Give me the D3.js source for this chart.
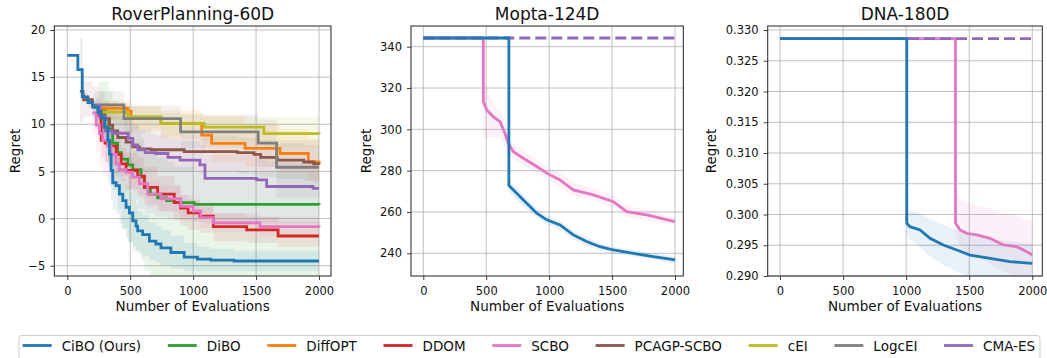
<!DOCTYPE html>
<html><head><meta charset="utf-8">
<script src="https://cdn.jsdelivr.net/npm/d3@7"></script>
<style>body{margin:0;background:#fff;} svg{display:block;font-family:"DejaVu Sans",sans-serif;}</style>
</head><body><svg id="c" width="1047" height="358"></svg>
<script>
// ---------- categories / legend ----------
const methods = ["CiBO (Ours)","DiBO","DiffOPT","DDOM","SCBO","PCAGP-SCBO","cEI","LogcEI","CMA-ES"];
const colors  = ["#1f77b4","#2ca02c","#ff7f0e","#d62728","#e377c2","#8c564b","#bcbd22","#7f7f7f","#9467bd"];
const titles = ["RoverPlanning-60D","Mopta-124D","DNA-180D"];
const xTicks = [0,500,1000,1500,2000];
const yTicksRover = [-5,0,5,10,15,20];
const yTicksMopta = [240,260,280,300,320,340];
const yTicksDNA = [0.290,0.295,0.300,0.305,0.310,0.315,0.320,0.325,0.330];

// ---------- RoverPlanning-60D ----------
const roverCiBOx = [0,84,119,164,203,243,269,296,322,335,348,361,388,414,441,467,493,520,546,559,599,652,704,744,823,929,1034,1140,1325,2000];
const roverCiBOy = [17.3,15.8,12.9,12.3,11.8,11.3,10.7,9.7,8.3,6.8,5.1,3.8,3.5,2.6,1.9,1.2,0.6,-0.25,-0.8,-1.3,-1.7,-2.4,-2.7,-3.1,-3.6,-4.1,-4.3,-4.4,-4.5,-4.5];
const roverCiBOlo = [17.3,15.8,12.5,11.8,11.0,10.2,9.2,7.8,5.5,3.5,2.0,1.0,0.5,-0.5,-1.2,-2.0,-2.5,-3.0,-3.4,-3.7,-4.0,-4.4,-4.7,-5.0,-5.3,-5.5,-5.6,-5.6,-5.6,-5.6];
const roverCiBOhi = [17.3,15.8,13.3,12.8,12.6,12.4,12.2,11.6,11.0,10.0,8.2,6.6,6.0,5.0,4.2,3.4,2.8,2.0,1.4,0.8,0.4,-0.4,-0.8,-1.2,-1.8,-2.6,-3.0,-3.2,-3.4,-3.4];

const roverDiBOx = [250,300,330,360,400,430,480,520,586,612,660,718,790,850,1008,2000];
const roverDiBOy = [11.5,10.5,9.5,8.0,7.0,6.3,5.7,5.2,4.4,3.3,2.6,2.2,1.9,1.7,1.5,1.45];
const roverDiBOhi = [14.5,14.5,13.5,12.5,11.5,10.5,9.5,9.0,8.5,7.5,7.0,6.5,6.0,5.5,5.0,5.0];
const roverDiBOlo = [9.0,7.5,5.5,3.0,1.0,-1.0,-2.5,-3.5,-4.5,-5.5,-6.3,-7,-7,-7,-7,-7];

const roverDiffOPTx = [269,480,507,744,1068,1147,1412,1690,1915,2000];
const roverDiffOPTy = [11.7,11.4,10.6,10.1,8.86,7.98,7.45,6.9,6.0,5.9];
const roverDiffOPThi = [12.5,12.3,11.9,11.5,10.9,10.9,10.0,9.5,8.5,8.5];
const roverDiffOPTlo = [10.5,10.2,9.2,8.5,7.0,6.0,5.5,5.0,4.0,4.0];

const roverDDOMx = [230,269,300,335,388,427,467,559,612,718,850,900,960,1054,1160,1425,1675,2000];
const roverDDOMy = [11.0,8.3,8.0,7.7,6.8,5.8,5.1,4.5,3.3,2.6,1.7,1.1,0.6,0.25,-0.86,-1.2,-1.85,-1.85];
const roverDDOMhi = [12.0,10.5,10.0,9.5,8.5,7.5,7.0,6.5,5.5,4.5,3.5,2.5,2.0,1.5,0.5,0.2,-0.3,-0.3];
const roverDDOMlo = [9.5,6.5,6.0,5.5,4.8,4.0,3.2,2.5,1.5,0.8,-0.2,-0.8,-1.2,-1.5,-2.4,-2.6,-3.0,-3.0];

const roverSCBOx = [200,230,256,282,322,348,388,414,467,520,573,639,744,902,1000,1061,1160,1530,2000];
const roverSCBOy = [11.2,9.9,9.0,8.3,7.7,6.8,5.8,5.2,4.9,4.4,3.7,2.6,2.1,1.3,0.8,0.1,-0.45,-0.85,-0.95];
const roverSCBOhi = [12.0,11.0,10.5,10.0,9.5,8.5,7.5,7.0,6.5,6.0,5.2,4.0,3.5,2.5,2.0,1.2,0.6,0.2,0.1];
const roverSCBOlo = [9.0,7.0,5.5,4.5,4.0,3.5,3.2,3.0,3.0,2.8,2.2,1.2,0.7,0.1,-0.4,-1.0,-1.5,-1.9,-2.0];

const roverPCAGPx = [100,125,130,200,250,296,335,361,401,467,520,573,665,929,1351,1483,1536,1668,1879,1958,2000];
const roverPCAGPy = [13.5,13.0,12.6,12.0,11.3,10.6,9.9,9.3,8.6,8.1,7.6,7.4,7.3,7.1,7.0,6.8,6.5,6.2,6.0,5.8,5.7];
const roverPCAGPhi = [19.2,14.5,14.5,14.0,13.5,12.5,12.0,11.5,11.0,10.5,10.0,9.5,9.0,8.8,8.6,8.5,8.3,8.0,7.8,7.7,7.7];
const roverPCAGPlo = [10.2,10.5,10.8,10.5,9.5,8.5,7.5,6.5,6.0,5.5,5.0,5.0,5.0,5.0,4.8,4.6,4.4,4.2,4.0,3.8,3.8];

const roverCEIx = [250,480,744,1087,1562,2000];
const roverCEIy = [11.3,10.8,10.1,9.7,9.0,8.95];
const roverCEIhi = [12.2,12.0,11.2,10.8,10.8,10.5];
const roverCEIlo = [10.0,9.5,8.8,8.2,7.5,7.5];

const roverLogCEIx = [220,450,900,1517,1663,2000];
const roverLogCEIy = [12.05,10.6,9.2,8.0,5.44,5.44];
const roverLogCEIhi = [13.5,12.0,11.0,10.5,8.3,8.3];
const roverLogCEIlo = [10.5,9.0,7.5,5.5,2.2,2.2];

const roverCMAx = [230,260,300,361,484,520,560,620,700,800,896,1054,1094,1505,1584,1953,2000];
const roverCMAy = [12.0,10.8,9.3,9.05,8.5,7.8,7.3,7.0,6.9,6.5,6.2,5.7,4.27,4.1,3.4,3.2,3.2];
const roverCMAhi = [12.8,12.0,11.0,10.8,10.3,9.8,9.3,9.0,8.8,8.5,8.2,7.8,6.8,6.5,6.0,5.8,5.8];
const roverCMAlo = [10.5,8.5,6.0,4.5,3.0,2.0,1.0,0.5,0.2,0.0,-0.2,-0.3,-0.5,-0.5,-0.5,-0.5,-0.5];

// ---------- Mopta-124D ----------
const moptaCiBOx = [0,680,680,742,795,848,901,981,1086,1192,1298,1404,1510,1669,1828,2000];
const moptaCiBOy = [344.2,344.2,272.8,269.1,265.8,262.6,259.4,256.2,253.7,248.9,245.7,243.2,241.6,240.0,238.4,236.8];
const moptaCiBOhi = [344.2,344.2,275.5,272.0,268.5,265.0,261.8,258.5,255.8,251.0,247.8,245.0,243.2,241.6,240.0,238.5];
const moptaCiBOlo = [344.2,344.2,270.0,266.0,262.8,260.0,257.0,254.0,251.5,246.8,243.6,241.4,239.8,238.4,236.8,235.0];

const moptaSCBOx = [0,477,477,504,556,609,649,675,715,795,901,981,1086,1192,1351,1510,1616,1775,2000];
const moptaSCBOy = [344.2,344.2,313.4,309.4,306.1,303.7,298.1,293.3,289.2,286.0,282.0,278.8,275.5,270.7,268.3,265.0,260.2,258.6,255.3];
const moptaSCBOhi = [344.2,344.2,325,320,312,309,304,298,293,289.5,285.5,282,279,274,271.5,268,263,261,257.5];
const moptaSCBOlo = [344.2,344.2,296,296,296,296,292,288,285.5,283,279,276,272.5,268,265.5,262,257.5,256,253.5];

const moptaCMAx = [0,2000];
const moptaCMAy = [344.2,344.2];

// ---------- DNA-180D ----------
const dnaCiBOx = [0,1005,1005,1030,1110,1189,1295,1401,1506,1665,1823,2000];
const dnaCiBOy = [0.3286,0.3286,0.29857,0.29802,0.29748,0.29613,0.29504,0.29423,0.29341,0.29287,0.29233,0.29206];
const dnaCiBOhi = [0.3286,0.3286,0.3007,0.3006,0.3002,0.2992,0.2983,0.2975,0.2966,0.2960,0.2956,0.2953];
const dnaCiBOlo = [0.3286,0.3286,0.2968,0.2960,0.2948,0.2932,0.2918,0.2907,0.2898,0.2893,0.2890,0.2888];

const dnaSCBOx = [0,1391,1391,1427,1480,1559,1665,1770,1876,1956,2000];
const dnaSCBOy = [0.3286,0.3286,0.2986,0.29748,0.29694,0.29667,0.29613,0.29504,0.29477,0.29396,0.29341];
const dnaSCBOhi = [0.3286,0.3286,0.3043,0.3024,0.3020,0.3015,0.3010,0.3003,0.2998,0.2992,0.2990];
const dnaSCBOlo = [0.3286,0.3286,0.2965,0.2950,0.2940,0.2932,0.2920,0.2908,0.2900,0.2895,0.2893];

const dnaCMAx = [0,2000];
const dnaCMAy = [0.3286,0.3286];

// ---------- panel set-up ----------
const S = (m, x, y, lo, hi, dashed) => ({m, x, y, lo, hi, dashed});
const panels = [
  { title: titles[0], box:{l:54.3,r:331,t:26,b:276}, xr:[67.3,319], yd:[-5,20], yr:[265.7,30],
    yTicks: yTicksRover, fmt: d3.format("d"), step: true, ylab: 15,
    series: [
      S(1, roverDiBOx, roverDiBOy, roverDiBOlo, roverDiBOhi),
      S(2, roverDiffOPTx, roverDiffOPTy, roverDiffOPTlo, roverDiffOPThi),
      S(3, roverDDOMx, roverDDOMy, roverDDOMlo, roverDDOMhi),
      S(4, roverSCBOx, roverSCBOy, roverSCBOlo, roverSCBOhi),
      S(5, roverPCAGPx, roverPCAGPy, roverPCAGPlo, roverPCAGPhi),
      S(6, roverCEIx, roverCEIy, roverCEIlo, roverCEIhi),
      S(7, roverLogCEIx, roverLogCEIy, roverLogCEIlo, roverLogCEIhi),
      S(8, roverCMAx, roverCMAy, roverCMAlo, roverCMAhi),
      S(0, roverCiBOx, roverCiBOy, roverCiBOlo, roverCiBOhi)
    ]},
  { title: titles[1], box:{l:411,r:683.3,t:26,b:276}, xr:[423.3,675], yd:[240,340], yr:[253.3,46.7],
    yTicks: yTicksMopta, fmt: d3.format("d"), step: false, ylab: 366.7,
    series: [
      S(4, moptaSCBOx, moptaSCBOy, moptaSCBOlo, moptaSCBOhi),
      S(8, moptaCMAx, moptaCMAy, null, null, true),
      S(0, moptaCiBOx, moptaCiBOy, moptaCiBOlo, moptaCiBOhi)
    ]},
  { title: titles[2], box:{l:767.7,r:1042.3,t:26,b:276}, xr:[780,1032.3], yd:[0.290,0.330], yr:[276,30],
    yTicks: yTicksDNA, fmt: d3.format(".3f"), step: false, ylab: 711.5,
    series: [
      S(4, dnaSCBOx, dnaSCBOy, dnaSCBOlo, dnaSCBOhi),
      S(8, dnaCMAx, dnaCMAy, null, null, true),
      S(0, dnaCiBOx, dnaCiBOy, dnaCiBOlo, dnaCiBOhi)
    ]}
];

const svg = d3.select("#c");
const defs = svg.append("defs");

panels.forEach((p, i) => {
  const x = d3.scaleLinear().domain([0, 2000]).range(p.xr);
  const y = d3.scaleLinear().domain(p.yd).range(p.yr);
  const b = p.box;
  const g = svg.append("g");
  defs.append("clipPath").attr("id", "clip" + i).append("rect")
    .attr("x", b.l).attr("y", b.t).attr("width", b.r - b.l).attr("height", b.b - b.t);

  // grid
  const grid = g.append("g").attr("stroke", "#b0b0b0").attr("stroke-width", 0.8);
  xTicks.forEach(t => grid.append("line").attr("x1", x(t)).attr("x2", x(t)).attr("y1", b.t).attr("y2", b.b));
  p.yTicks.forEach(t => grid.append("line").attr("y1", y(t)).attr("y2", y(t)).attr("x1", b.l).attr("x2", b.r));

  const plot = g.append("g").attr("clip-path", `url(#clip${i})`);
  const curve = p.step ? d3.curveStepAfter : d3.curveLinear;

  // bands
  p.series.forEach(s => {
    if (!s.lo) return;
    const idx = d3.range(s.x.length);
    const area = d3.area().curve(curve)
      .x(j => x(s.x[j])).y0(j => y(s.lo[j])).y1(j => y(s.hi[j]));
    plot.append("path").attr("d", area(idx))
      .attr("fill", colors[s.m]).attr("fill-opacity", 0.1).attr("stroke", "none");
  });
  // lines
  p.series.forEach(s => {
    const idx = d3.range(s.x.length);
    const line = d3.line().curve(curve).x(j => x(s.x[j])).y(j => y(s.y[j]));
    plot.append("path").attr("d", line(idx))
      .attr("fill", "none").attr("stroke", colors[s.m]).attr("stroke-width", 2.8)
      .attr("stroke-dasharray", s.dashed ? "11,5" : null);
  });

  // axes
  const ax = g.append("g").attr("transform", `translate(0,${b.b})`)
    .call(d3.axisBottom(x).tickValues(xTicks).tickSize(4).tickPadding(7).tickFormat(d3.format("d")));
  ax.select(".domain").remove();
  const ay = g.append("g").attr("transform", `translate(${b.l},0)`)
    .call(d3.axisLeft(y).tickValues(p.yTicks).tickSize(4).tickPadding(5).tickFormat(p.fmt));
  ay.select(".domain").remove();
  [ax, ay].forEach(a => {
    a.selectAll("text").attr("font-size", "11.5px").attr("fill", "#111").attr("font-family", "DejaVu Sans");
    a.selectAll("line").attr("stroke", "#111").attr("stroke-width", 0.8);
  });

  // frame
  g.append("rect").attr("x", b.l).attr("y", b.t).attr("width", b.r - b.l).attr("height", b.b - b.t)
    .attr("fill", "none").attr("stroke", "#222").attr("stroke-width", 1);

  // titles & labels
  const cx = (b.l + b.r) / 2;
  g.append("text").attr("x", cx).attr("y", 19.5).attr("text-anchor", "middle")
    .attr("font-size", "17px").attr("fill", "#111").text(p.title);
  g.append("text").attr("x", cx).attr("y", 311).attr("text-anchor", "middle")
    .attr("font-size", "13.5px").attr("fill", "#111").text("Number of Evaluations");
  g.append("text").attr("transform", `translate(${p.ylab},${(b.t + b.b) / 2}) rotate(-90)`)
    .attr("dy", "0.35em").attr("text-anchor", "middle")
    .attr("font-size", "13.5px").attr("fill", "#111").text("Regret");
});

// legend
const lg = svg.append("g");
lg.append("rect").attr("x", 19).attr("y", 335.5).attr("width", 1021).attr("height", 30)
  .attr("rx", 3).attr("fill", "#fff").attr("stroke", "#cccccc").attr("stroke-width", 1);
let lx = 22.7;
methods.forEach((m, i) => {
  lg.append("line").attr("x1", lx).attr("x2", lx + 29).attr("y1", 345.5).attr("y2", 345.5)
    .attr("stroke", colors[i]).attr("stroke-width", 2.8);
  const t = lg.append("text").attr("x", lx + 39).attr("y", 350.5).attr("font-size", "13.5px")
    .attr("fill", "#111").text(m);
  const w = t.node().getComputedTextLength();
  lx = lx + 39 + w + 26.7;
});
</script>
</body></html>
